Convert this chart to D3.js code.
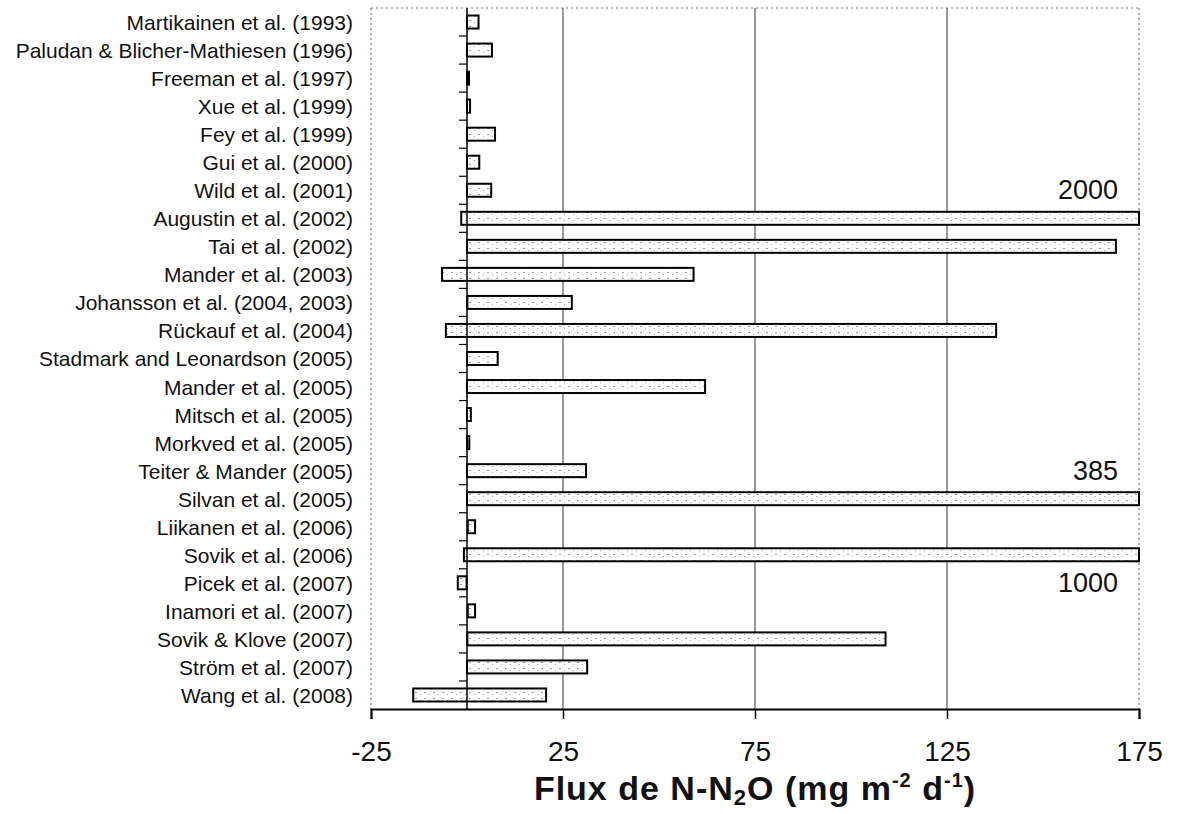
<!DOCTYPE html>
<html>
<head>
<meta charset="utf-8">
<script src="https://cdn.jsdelivr.net/npm/d3@7"></script>
<style>
  body { margin: 0; background: #fff; }
  text { font-family: "Liberation Sans", Arial, sans-serif; fill: #111; }
</style>
</head>
<body>
<div class="graph"></div>
<script>
// studies, top to bottom
var studies = [
    "Martikainen et al. (1993)",
    "Paludan & Blicher-Mathiesen (1996)",
    "Freeman et al. (1997)",
    "Xue et al. (1999)",
    "Fey et al. (1999)",
    "Gui et al. (2000)",
    "Wild et al. (2001)",
    "Augustin et al. (2002)",
    "Tai et al. (2002)",
    "Mander et al. (2003)",
    "Johansson et al. (2004, 2003)",
    "Rückauf et al. (2004)",
    "Stadmark and Leonardson (2005)",
    "Mander et al. (2005)",
    "Mitsch et al. (2005)",
    "Morkved et al. (2005)",
    "Teiter & Mander (2005)",
    "Silvan et al. (2005)",
    "Liikanen et al. (2006)",
    "Sovik et al. (2006)",
    "Picek et al. (2007)",
    "Inamori et al. (2007)",
    "Sovik & Klove (2007)",
    "Ström et al. (2007)",
    "Wang et al. (2008)"
];

// min / max flux, mg N-N2O m-2 d-1
var fluxMin = [0, 0, 0, 0, 0, 0, 0, -1.5, 0, -6.5, 0.1, -5.5, 0, 0, 0, 0, 0, 0, 0.2, -0.8, -2.4, 0.2, 0.1, 0, -14];
var fluxMax = [3, 6.5, 0.5, 0.8, 7.3, 3.2, 6.3, 2000, 169, 59, 27.3, 137.8, 8, 62, 1, 0.6, 31, 385, 2.1, 1000, -0.1, 2.1, 109, 31.3, 20.6];

var xTicks = [-25, 25, 75, 125, 175];

// values of the bars that run off the axis, and the row they are written in
var offText = ["2000", "385", "1000"];
var offRow = ["Wild et al. (2001)", "Teiter & Mander (2005)", "Picek et al. (2007)"];

function createGraph()
{
    var svg = d3.select("div.graph").append("svg")
        .attr("width", 1180)
        .attr("height", 814);

    var x = d3.scaleLinear().domain([-25, 175]).range([371, 1139]).clamp(true);
    var y = d3.scaleBand().domain(studies).range([8, 709]).paddingInner(0);
    var bh = 13;

    // speckled fill like the scanned bars
    var pat = svg.append("defs").append("pattern")
        .attr("id", "speck")
        .attr("patternUnits", "userSpaceOnUse")
        .attr("width", 9).attr("height", 6);
    pat.append("rect").attr("width", 9).attr("height", 6).attr("fill", "#fff");
    pat.append("rect").attr("x", 1).attr("y", 2).attr("width", 2).attr("height", 1).attr("fill", "#999");
    pat.append("rect").attr("x", 6).attr("y", 4).attr("width", 1).attr("height", 1).attr("fill", "#aaa");

    // frame: dotted top / left / right
    svg.append("g")
        .selectAll("line")
        .data([[x(-25), 8, x(175), 8], [x(-25), 8, x(-25), 709], [x(175), 8, x(175), 709]])
        .join("line")
        .attr("x1", d => d[0]).attr("y1", d => d[1])
        .attr("x2", d => d[2]).attr("y2", d => d[3])
        .attr("stroke", "#777")
        .attr("stroke-width", 1.2)
        .attr("stroke-dasharray", "2,3");

    // gridlines
    svg.append("g")
        .selectAll("line")
        .data([25, 75, 125])
        .join("line")
        .attr("x1", d => x(d)).attr("x2", d => x(d))
        .attr("y1", 8).attr("y2", 709)
        .attr("stroke", "#555")
        .attr("stroke-width", 1.2);

    // bars
    svg.append("g")
        .selectAll("rect")
        .data(studies)
        .join("rect")
        .attr("x", (d, i) => x(fluxMin[i]))
        .attr("width", (d, i) => Math.max(2, x(fluxMax[i]) - x(fluxMin[i])))
        .attr("y", d => y(d) + y.bandwidth() / 2 - bh / 2)
        .attr("height", bh)
        .attr("fill", "url(#speck)")
        .attr("stroke", "#000")
        .attr("stroke-width", 2);

    // category axis at zero
    var cat = svg.append("g");
    cat.append("line")
        .attr("x1", x(0)).attr("x2", x(0))
        .attr("y1", 8).attr("y2", 709)
        .attr("stroke", "#000")
        .attr("stroke-width", 1.5);
    cat.selectAll("line.tk")
        .data(studies.slice(1))
        .join("line")
        .attr("class", "tk")
        .attr("x1", x(0) - 8).attr("x2", x(0))
        .attr("y1", d => y(d)).attr("y2", d => y(d))
        .attr("stroke", "#000")
        .attr("stroke-width", 1.2);

    // study labels
    svg.append("g")
        .selectAll("text")
        .data(studies)
        .join("text")
        .attr("x", 353)
        .attr("y", d => y(d) + y.bandwidth() / 2)
        .attr("dy", "0.38em")
        .attr("text-anchor", "end")
        .attr("font-size", 21)
        .text(d => d);

    // bottom axis
    var xa = svg.append("g")
        .attr("transform", "translate(0,709)")
        .call(d3.axisBottom(x).tickValues(xTicks).tickSize(10).tickPadding(22).tickFormat(d3.format("d")));
    xa.select(".domain").attr("stroke", "#000").attr("stroke-width", 2);
    xa.selectAll(".tick line").attr("stroke", "#000").attr("stroke-width", 1.5);
    xa.selectAll(".tick text")
        .attr("font-family", "'Liberation Sans', Arial, sans-serif")
        .attr("font-size", 28)
        .attr("fill", "#111")
        .text(d => d < 0 ? "-" + Math.abs(d) : d);

    // axis title
    var t = svg.append("text")
        .attr("x", (x(-25) + x(175)) / 2)
        .attr("y", 800)
        .attr("text-anchor", "middle")
        .attr("font-size", 34)
        .attr("font-weight", "bold")
        .attr("letter-spacing", 1);
    t.append("tspan").text("Flux de N-N");
    t.append("tspan").attr("font-size", 22).attr("dy", 5).text("2");
    t.append("tspan").attr("dy", -5).text("O (mg m");
    t.append("tspan").attr("font-size", 20).attr("dy", -13).text("-2");
    t.append("tspan").attr("dy", 13).text(" d");
    t.append("tspan").attr("font-size", 20).attr("dy", -13).text("-1");
    t.append("tspan").attr("dy", 13).text(")");

    // off-scale values
    svg.append("g")
        .selectAll("text")
        .data(offText)
        .join("text")
        .attr("x", 1118)
        .attr("y", (d, i) => y(offRow[i]) + y.bandwidth() / 2 + 9)
        .attr("text-anchor", "end")
        .attr("font-size", 27)
        .text(d => d);
}

createGraph();
</script>
</body>
</html>
